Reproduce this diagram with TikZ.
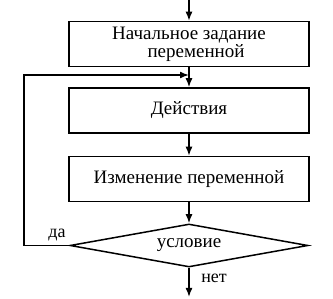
\documentclass[tikz,border=0pt]{standalone}
\usepackage{fontspec}
\setmainfont{Liberation Serif}
\usetikzlibrary{shapes.geometric,arrows.meta}
\begin{document}
\begin{tikzpicture}[x=1pt,y=-1pt,
  line width=1.5pt,
  blk/.style={draw, rectangle, minimum width=240pt, minimum height=45pt, inner sep=0pt, font=\fontsize{19}{15.5}\selectfont, align=center},
  cond/.style={draw, diamond, aspect=5.5, minimum width=238pt, minimum height=43pt, inner sep=0pt, font=\fontsize{19}{16}\selectfont},
  arr/.style={-{Latex[length=9pt,width=7pt]}},
  lbl/.style={font=\fontsize{18}{18}\selectfont, inner sep=0pt}]
\useasboundingbox (0,0) rectangle (333,299);
\coordinate (top) at (189,0);
\node[blk] (b1) at (189,44) {Начальное задание\\\hspace*{14pt}переменной};
\node[blk] (b2) at (189,110.5) {Действия};
\node[blk] (b3) at (189,179) {Изменение переменной};
\node[cond] (c) at (189,245.5) {условие};
\coordinate (bot) at (189,297);
\coordinate (ret) at (189,75);
\coordinate (lx) at (24,245.5);
\coordinate (ly) at (24,75);
\draw[arr] (top) -- (b1.north);
\draw[arr] (b1.south) -- (b2.north);
\draw[arr] (b2.south) -- (b3.north);
\draw[arr] (b3.south) -- (c.north);
\draw[arr] (c.south) -- (bot);
\draw[arr] (c.west) -- (lx) -- (ly) -- (ret);
\node[lbl] (da) at (57,235) {да};
\node[lbl] (net) at (214,278) {нет};
\end{tikzpicture}
\end{document}
